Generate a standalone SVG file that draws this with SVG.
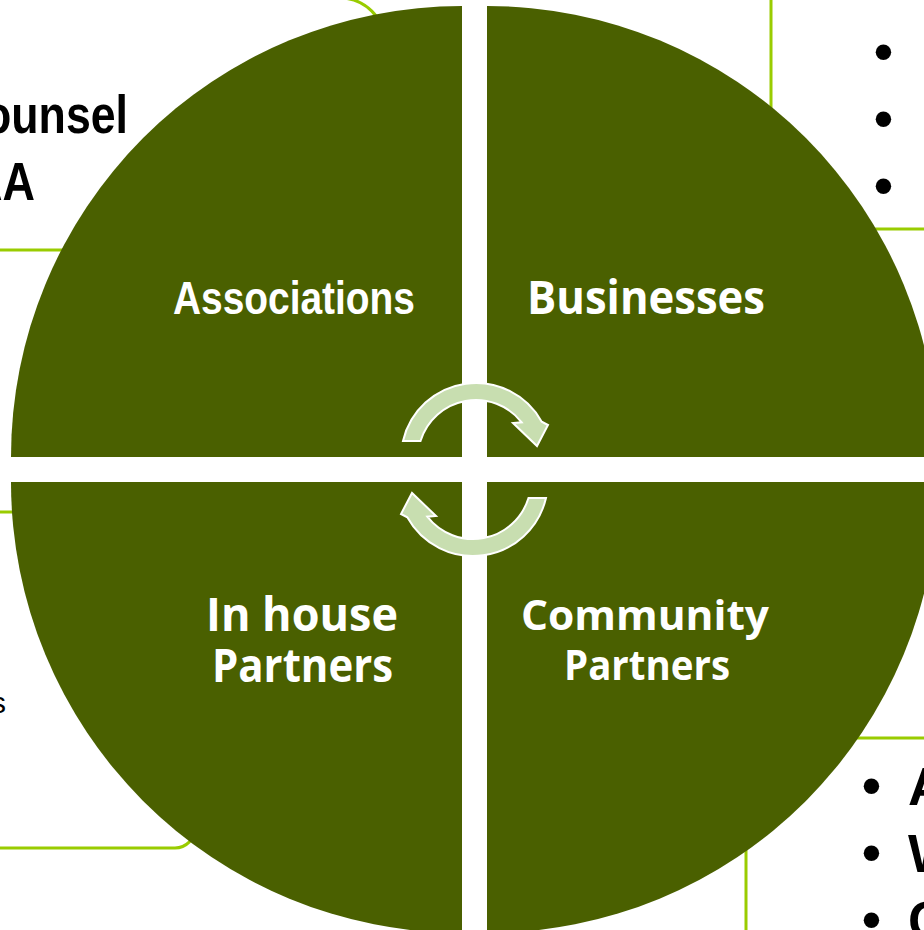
<svg xmlns="http://www.w3.org/2000/svg" width="924" height="930" viewBox="0 0 924 930">
  <style>
    .box { fill: none; stroke: #99CC00; stroke-width: 3; }
    .quad { fill: #4A6000; }
    .side { font-family: "Liberation Sans", Arial, sans-serif; font-weight: 700; fill: #000000; }
    .lbl-a { font-family: "Liberation Sans", Arial, sans-serif; font-weight: 700; fill: #FFFFFF; text-anchor: middle; }
    .lbl { font-family: "Open Sans", "DejaVu Sans", sans-serif; font-weight: 700; fill: #FFFFFF; text-anchor: middle; }
    .cyc { fill: #C8DEB0; stroke: #FFFFFF; stroke-width: 2; stroke-linejoin: miter; }
  </style>
  <defs>
    <path id="arrowTop" d="M403,441 A75,75 0 0 1 541.7,421.7 L548,425 L537,446 L513,423 L521.7,422.3 A58,58 0 0 0 420.5,441 Z"/>
  </defs>
  <rect x="0" y="0" width="924" height="930" fill="#FFFFFF"/>

  <!-- background text boxes (partially hidden) -->
  <g id="box-top-left">
    <rect class="box" x="-60" y="-2" width="445" height="252" rx="45" ry="45"/>
    <text class="side" x="-16" y="133" font-size="54" textLength="144" lengthAdjust="spacingAndGlyphs">ounsel</text>
    <text class="side" x="-30" y="200" font-size="54" textLength="65" lengthAdjust="spacingAndGlyphs">AA</text>
  </g>
  <g id="box-top-right">
    <rect class="box" x="771" y="-40" width="220" height="269" rx="20" ry="20"/>
    <text class="side" x="874" y="70" font-size="54">•</text>
    <text class="side" x="874" y="137" font-size="54">•</text>
    <text class="side" x="874" y="204" font-size="54">•</text>
  </g>
  <g id="box-left-middle">
    <rect class="box" x="-60" y="512" width="255" height="336" rx="20" ry="20"/>
    <text x="-9" y="713" font-family="Liberation Sans, Arial, sans-serif" font-size="30" fill="#000000">s</text>
  </g>
  <g id="box-bottom-right">
    <rect class="box" x="746" y="738" width="240" height="260" rx="20" ry="20"/>
    <text class="side" x="862" y="804" font-size="54">•</text>
    <text class="side" x="862" y="871" font-size="54">•</text>
    <text class="side" x="862" y="938" font-size="54">•</text>
    <text class="side" x="908" y="805" font-size="53">A</text>
    <text class="side" x="908" y="872" font-size="53">W</text>
    <text class="side" x="908" y="939" font-size="53">C</text>
  </g>

  <!-- quadrants -->
  <g id="associations">
    <path class="quad" d="M462,457 L11,457 A451,451 0 0 1 462,6 Z"/>
    <text class="lbl-a" x="294" y="314" font-size="46" textLength="242" lengthAdjust="spacingAndGlyphs">Associations</text>
  </g>
  <g id="businesses">
    <path class="quad" d="M487,457 L487,6 A451,451 0 0 1 938,457 Z"/>
    <text class="lbl" x="646" y="314" font-size="46" textLength="238" lengthAdjust="spacingAndGlyphs">Businesses</text>
  </g>
  <g id="in-house-partners">
    <path class="quad" d="M462,482 L462,933 A451,451 0 0 1 11,482 Z"/>
    <text class="lbl" x="302" y="631" font-size="46" textLength="192" lengthAdjust="spacingAndGlyphs">In house</text>
    <text class="lbl" x="302.5" y="682" font-size="46" textLength="181" lengthAdjust="spacingAndGlyphs">Partners</text>
  </g>
  <g id="community-partners">
    <path class="quad" d="M487,482 L938,482 A451,451 0 0 1 487,933 Z"/>
    <text class="lbl" x="645" y="630" font-size="42" textLength="248" lengthAdjust="spacingAndGlyphs">Community</text>
    <text class="lbl" x="647" y="680" font-size="42" textLength="166" lengthAdjust="spacingAndGlyphs">Partners</text>
  </g>

  <!-- connectors: cycle arrows -->
  <g id="connectors">
    <use href="#arrowTop" class="cyc"/>
    <use href="#arrowTop" class="cyc" transform="rotate(180 474.5 469.5)"/>
  </g>
</svg>
